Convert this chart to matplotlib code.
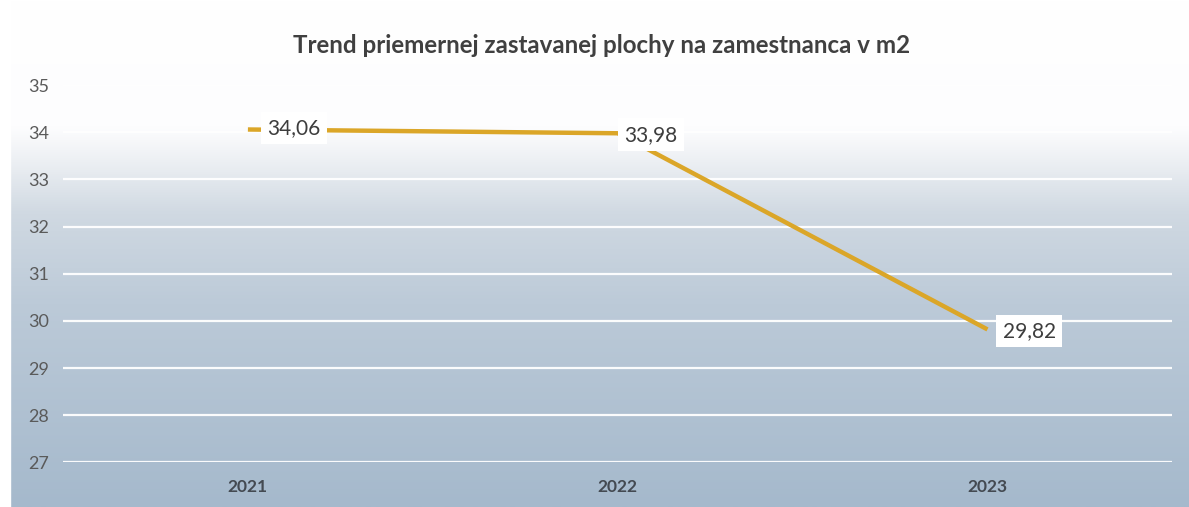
import numpy as np
import matplotlib.pyplot as plt
from matplotlib.colors import LinearSegmentedColormap

years = ['2021', '2022', '2023']
values = [34.06, 33.98, 29.82]
value_labels = ['34,06', '33,98', '29,82']
yticks = [27, 28, 29, 30, 31, 32, 33, 34, 35]

plt.rcParams['font.family'] = ['Lato', 'DejaVu Sans']

fig = plt.figure(figsize=(11.89, 5.07), dpi=100)

# background gradient (white top -> grey-blue bottom)
bg = fig.add_axes([0, 0, 1, 1], zorder=-10)
grad_cmap = LinearSegmentedColormap.from_list(
    'bg', [(0.0, '#ffffff'), (0.25, '#fdfdfe'), (0.32, '#eceff3'),
           (0.42, '#d0d9e2'), (0.6, '#bccad8'), (1.0, '#a5b9cc')])
bg.imshow(np.linspace(0, 1, 256).reshape(-1, 1), aspect='auto', cmap=grad_cmap,
          extent=[0, 1, 0, 1], origin='upper')
bg.axvspan(0, 0.008, color='white')
bg.axis('off')

ax = fig.add_axes([0.053, 0.088, 0.933, 0.744])
ax.patch.set_alpha(0)
x = np.arange(len(years))
ax.plot(x, values, color='#dba628', lw=3.2, solid_capstyle='butt', zorder=3)

offsets = [(14, 1), (5, -1), (11, -1)]
for xi, v, lab, off in zip(x, values, value_labels, offsets):
    ax.annotate(lab, (xi, v), xytext=off, textcoords='offset points',
                ha='left', va='center', fontsize=15, color='#3d3d3d', zorder=4,
                bbox=dict(boxstyle='square,pad=0.3', fc='white', ec='none'))

ax.set_xlim(-0.5, 2.5)
ax.set_ylim(27, 35)
ax.set_yticks(yticks)
ax.set_xticks(x)
ax.set_xticklabels(years, fontweight='bold', fontsize=12.5, color='#444a52')
ax.tick_params(axis='y', labelsize=13, labelcolor='#5a5a5a', length=0, pad=10)
ax.tick_params(axis='x', length=0, pad=12)
ax.grid(axis='y', color='white', lw=1.6, alpha=0.95)
ax.set_axisbelow(True)
for s in ax.spines.values():
    s.set_visible(False)

fig.text(0.506, 0.91, 'Trend priemernej zastavanej plochy na zamestnanca v m2',
         ha='center', va='center', fontsize=17.4, fontweight='bold', color='#404040')

fig.savefig('out.png', dpi=100)
